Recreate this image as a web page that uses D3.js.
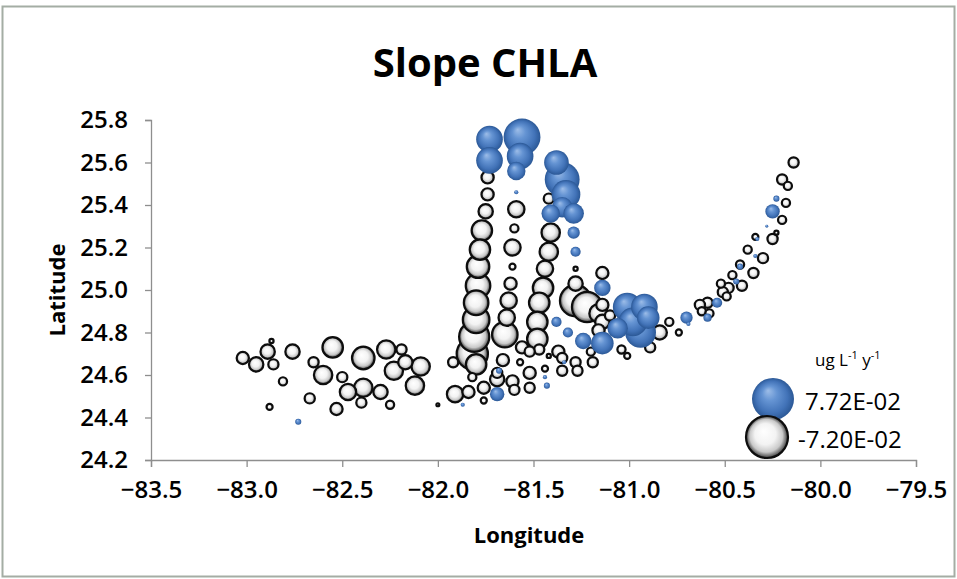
<!DOCTYPE html>
<html>
<head>
<meta charset="utf-8">
<script src="https://cdn.jsdelivr.net/npm/d3@7"></script>
<style>
  html, body { margin: 0; padding: 0; background: #fff; }
  svg { display: block; }
  text { font-family: "Open Sans", "DejaVu Sans", sans-serif; fill: #000; }
</style>
</head>
<body>
<svg id="chart" width="957" height="579"></svg>
<script>
// ---- data ----
const chartTitle = "Slope CHLA";
const xTicks = [-83.5, -83.0, -82.5, -82.0, -81.5, -81.0, -80.5, -80.0, -79.5];
const yTicks = [24.2, 24.4, 24.6, 24.8, 25.0, 25.2, 25.4, 25.6, 25.8];
const legendUnit = "ug L";
const legendValues = [7.72e-2, -7.20e-2];

const lon = [
  -83.02,-82.95,-82.89,-82.86,-82.87,-82.76,-82.81,-82.65,-82.55,-82.60,-82.50,-82.39,-82.47,-82.39,
  -82.30,-82.67,-82.53,-82.40,-82.25,-82.27,-82.19,-82.17,-82.23,-82.09,-82.12,-82.88,-82.73,-82.00,
  -81.74,-81.74,-81.75,-81.77,-81.78,-81.79,-81.79,-81.80,-81.80,-81.81,-81.82,-81.80,
  -81.73,-81.73,-81.56,-81.57,-81.59,-81.59,
  -81.59,-81.60,-81.61,-81.61,-81.62,-81.63,-81.64,-81.65,-81.66,-81.69,
  -81.42,-81.41,-81.42,-81.44,-81.45,-81.47,-81.48,-81.48,-81.47,
  -81.38,-81.35,-81.33,-81.35,-81.41,-81.29,-81.29,-81.28,
  -81.28,-81.14,-81.28,-81.28,-81.22,-81.16,-81.14,-81.14,-81.16,-81.10,
  -81.14,-81.01,-80.92,-80.98,-80.94,-81.06,-80.90,-81.14,-81.24,-81.38,-81.32,
  -80.84,-80.79,-80.74,-80.70,-80.89,-81.01,-81.04,
  -81.92,-81.82,-81.91,-81.84,-81.76,-81.69,-81.69,-81.76,-81.61,-81.60,-81.52,-81.52,
  -81.44,-81.44,-81.43,-81.37,-81.35,-81.35,-81.34,-81.28,-81.27,-81.19,-81.20,
  -81.87,-81.42,-81.68,-81.57,-81.56,-81.52,
  -80.14,-80.20,-80.17,-80.18,-80.23,-80.25,-80.24,-80.20,-80.28,-80.23,-80.34,-80.33,
  -80.25,-80.38,-80.30,-80.34,-80.42,-80.42,-80.35,-80.46,-80.44,-80.41,-80.52,-80.48,
  -80.51,-80.49,-80.54,-80.59,-80.63,-80.62,-80.58,-80.59,-80.69
];
const lat = [
  24.68,24.65,24.71,24.65,24.76,24.71,24.57,24.66,24.73,24.60,24.59,24.68,24.52,24.54,
  24.52,24.49,24.44,24.47,24.46,24.72,24.72,24.66,24.62,24.64,24.55,24.45,24.38,24.46,
  25.53,25.45,25.37,25.28,25.19,25.11,25.02,24.94,24.86,24.78,24.70,24.65,
  25.71,25.61,25.72,25.63,25.56,25.46,
  25.38,25.29,25.20,25.11,25.03,24.95,24.87,24.79,24.67,24.61,
  25.43,25.27,25.18,25.10,25.01,24.94,24.85,24.77,24.72,
  25.60,25.52,25.45,25.39,25.36,25.36,25.27,25.18,
  25.10,25.08,25.03,24.95,24.92,24.89,24.93,24.85,24.81,24.88,
  25.01,24.92,24.92,24.85,24.80,24.82,24.87,24.75,24.76,24.85,24.80,
  24.80,24.85,24.80,24.87,24.73,24.69,24.72,
  24.66,24.59,24.51,24.52,24.54,24.58,24.51,24.48,24.57,24.53,24.61,24.54,
  24.63,24.59,24.55,24.71,24.68,24.62,24.66,24.66,24.62,24.66,24.71,
  24.46,24.69,24.62,24.66,24.73,24.71,
  25.60,25.52,25.49,25.41,25.43,25.37,25.37,25.33,25.30,25.27,25.25,25.24,
  25.24,25.19,25.15,25.16,25.12,25.11,25.08,25.07,25.04,25.02,25.03,25.01,
  24.99,24.97,24.94,24.94,24.93,24.90,24.89,24.87,24.84
];
const slope = [
  -0.0069,-0.0095,-0.0095,-0.0048,-0.0008,-0.0095,-0.0031,-0.0048,-0.0193,-0.0156,-0.0048,-0.0234,-0.0124,-0.0156,
  -0.0095,-0.0048,-0.0069,-0.0048,-0.0031,-0.0156,-0.0048,-0.0095,-0.0156,-0.0156,-0.0156,-0.0017,0.0017,-0.0004,
  -0.0069,-0.0069,-0.0095,-0.0193,-0.0193,-0.0234,-0.0278,-0.0278,-0.0326,-0.0420,-0.0450,-0.0193,
  0.0326,0.0326,0.0625,0.0326,0.0156,0.0008,
  -0.0124,-0.0031,-0.0124,-0.0017,-0.0069,-0.0124,-0.0124,-0.0300,-0.0069,-0.0048,
  -0.0048,-0.0156,-0.0156,-0.0124,-0.0193,-0.0193,-0.0193,-0.0193,-0.0048,
  0.0278,0.0558,0.0378,0.0193,0.0156,0.0193,0.0069,0.0048,
  -0.0008,-0.0069,-0.0095,-0.0450,-0.0420,-0.0156,-0.0069,-0.0095,-0.0069,-0.0048,
  0.0124,0.0378,0.0326,0.0378,0.0434,0.0193,0.0234,0.0234,0.0124,0.0048,0.0048,
  -0.0095,-0.0031,-0.0017,0.0069,-0.0048,-0.0017,-0.0031,
  -0.0048,-0.0031,-0.0124,-0.0069,-0.0069,-0.0095,0.0095,-0.0017,-0.0069,-0.0048,-0.0069,-0.0048,
  -0.0017,0.0008,0.0017,-0.0069,-0.0048,-0.0048,0.0008,-0.0048,-0.0048,-0.0048,-0.0031,
  0.0008,-0.0008,0.0017,-0.0017,-0.0069,-0.0048,
  -0.0048,-0.0048,-0.0031,-0.0031,0.0017,0.0095,-0.0017,-0.0031,0.0004,-0.0008,-0.0017,0.0008,
  -0.0048,-0.0031,-0.0048,0.0008,-0.0031,0.0017,-0.0048,-0.0031,0.0017,-0.0048,-0.0031,-0.0048,
  -0.0048,-0.0031,0.0048,-0.0048,-0.0048,-0.0031,-0.0031,0.0031,0.0008
];

// ---- layout ----
const W = 957, H = 579;
const plot = { left: 151, right: 916, top: 120, bottom: 460 };

const svg = d3.select("#chart");

// frame
svg.append("rect")
  .attr("x", 2.5).attr("y", 6.5).attr("width", W - 5).attr("height", H - 9)
  .attr("fill", "#fff").attr("stroke", "#a4ada4").attr("stroke-width", 2);

// gradients
const defs = svg.append("defs");
const gBlue = defs.append("radialGradient").attr("id", "gBlue")
  .attr("cx", "50%").attr("cy", "50%").attr("r", "50%").attr("fx", "38%").attr("fy", "30%");
[["0%", "#9dbde8"], ["35%", "#6594d3"], ["75%", "#4273b8"], ["100%", "#2b5896"]]
  .forEach(([o, c]) => gBlue.append("stop").attr("offset", o).attr("stop-color", c));
const gWhite = defs.append("radialGradient").attr("id", "gWhite")
  .attr("cx", "50%").attr("cy", "50%").attr("r", "50%").attr("fx", "42%").attr("fy", "36%");
[["0%", "#ffffff"], ["50%", "#f3f3f3"], ["78%", "#c9c9c9"], ["100%", "#3a3a3a"]]
  .forEach(([o, c]) => gWhite.append("stop").attr("offset", o).attr("stop-color", c));

// scales
const x = d3.scaleLinear().domain([-83.5, -79.5]).range([plot.left, plot.right]);
const y = d3.scaleLinear().domain([24.2, 25.8]).range([plot.bottom, plot.top]);
const rScale = d3.scaleSqrt().domain([0, 0.0772]).range([0, 20.5]);

// title
svg.append("text").attr("x", 485).attr("y", 77).attr("text-anchor", "middle")
  .style("font-size", "40px").style("font-weight", 700).text(chartTitle);

// axes
const axisColor = "#8e8e8e";
const yAxis = svg.append("g").attr("transform", `translate(${plot.left},0)`)
  .call(d3.axisLeft(y).tickValues(yTicks).tickFormat(d3.format(".1f")).tickSize(6).tickPadding(17));
const xAxis = svg.append("g").attr("transform", `translate(0,${plot.bottom})`)
  .call(d3.axisBottom(x).tickValues(xTicks).tickFormat(d3.format(".1f")).tickSize(7).tickPadding(14));
[xAxis, yAxis].forEach(g => {
  g.select(".domain").attr("stroke", axisColor).attr("stroke-width", 1.3);
  g.selectAll(".tick line").attr("stroke", axisColor).attr("stroke-width", 1.3);
  g.selectAll(".tick text").style("font-size", "24px").style("font-weight", 600)
    .style("font-family", "'Open Sans', sans-serif").attr("fill", "#000");
});

// axis titles
svg.append("text").attr("x", 529).attr("y", 543).attr("text-anchor", "middle")
  .style("font-size", "22px").style("font-weight", 700).text("Longitude");
svg.append("text").attr("transform", "translate(65,290) rotate(-90)").attr("text-anchor", "middle")
  .style("font-size", "22px").style("font-weight", 700).text("Latitude");

// bubbles
const pts = lon.map((d, i) => ({ lon: d, lat: lat[i], v: slope[i] }));
const neg = pts.filter(p => p.v < 0).sort((a, b) => Math.abs(b.v) - Math.abs(a.v));
const pos = pts.filter(p => p.v >= 0).sort((a, b) => Math.abs(b.v) - Math.abs(a.v));
const bubbles = svg.append("g");
bubbles.selectAll("circle.neg").data(neg).join("circle").attr("class", "neg")
  .attr("cx", d => x(d.lon)).attr("cy", d => y(d.lat)).attr("r", d => rScale(Math.abs(d.v)))
  .attr("fill", "url(#gWhite)").attr("stroke", "#0d0d0d").attr("stroke-width", 2.2);
bubbles.selectAll("circle.pos").data(pos).join("circle").attr("class", "pos")
  .attr("cx", d => x(d.lon)).attr("cy", d => y(d.lat)).attr("r", d => Math.max(1.2, rScale(d.v)))
  .attr("fill", "url(#gBlue)");

// legend
const lg = svg.append("g");
const unit = lg.append("text").attr("x", 815).attr("y", 366).style("font-size", "17px");
unit.append("tspan").text(legendUnit);
unit.append("tspan").attr("dy", -7).style("font-size", "11px").text("-1");
unit.append("tspan").attr("dy", 7).text(" y");
unit.append("tspan").attr("dy", -7).style("font-size", "11px").text("-1");
const fmtE = v => {
  const e = Math.floor(Math.log10(Math.abs(v)));
  const m = v / Math.pow(10, e);
  return m.toFixed(2) + "E" + (e < 0 ? "-" : "+") + String(Math.abs(e)).padStart(2, "0");
};
const legendRows = [
  { v: legendValues[0], cx: 773, cy: 399, fill: "url(#gBlue)", stroke: "none", ty: 410, tx: 805 },
  { v: legendValues[1], cx: 767, cy: 437, fill: "url(#gWhite)", stroke: "#0d0d0d", ty: 448, tx: 798 }
];
legendRows.forEach(r => {
  lg.append("circle").attr("cx", r.cx).attr("cy", r.cy).attr("r", 21)
    .attr("fill", r.fill).attr("stroke", r.stroke).attr("stroke-width", 2.2);
  lg.append("text").attr("x", r.tx).attr("y", r.ty).style("font-size", "24px").text(fmtE(r.v));
});
</script>
</body>
</html>
